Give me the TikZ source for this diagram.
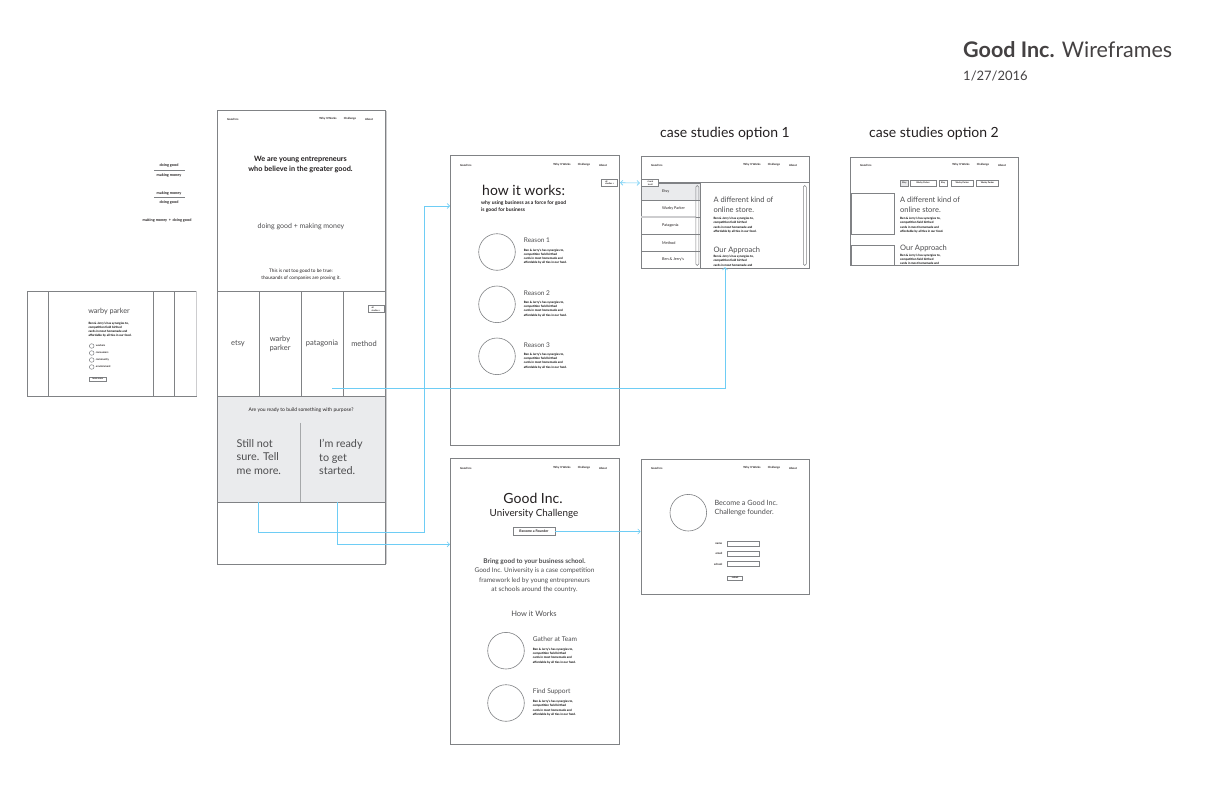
\documentclass[tikz,border=0pt]{standalone}
\usepackage{fontspec}
\setmainfont{Lato}
\usetikzlibrary{positioning,arrows.meta}

\definecolor{framecol}{RGB}{128,130,133}
\definecolor{inkcol}{RGB}{35,31,32}
\definecolor{softink}{RGB}{77,77,79}
\definecolor{linkcol}{RGB}{110,205,245}
\definecolor{paneltint}{RGB}{234,235,237}
\definecolor{shadecol}{RGB}{205,205,207}

\newcommand{\fsz}[2]{\fontsize{#1}{#2}\selectfont}

\tikzset{
  page/.style={draw=framecol, line width=0.7, inner sep=0, fill=white},
  box/.style={draw=framecol, line width=0.6, inner sep=0},
  photo/.style={circle, draw=framecol, line width=0.6, minimum size=36.6, inner sep=0},
  navtxt/.style={font=\bfseries\fsz{2.8}{3}, text=inkcol, inner sep=0},
  blurbtxt/.style={font=\bfseries\fsz{3}{4.3}, text=black, align=left, inner sep=0},
  smalltxt/.style={font=\bfseries\fsz{3.8}{4}, text=inkcol, inner sep=0},
  btn/.style={draw=framecol, line width=0.6, inner sep=0.6, font=\bfseries\fsz{2.2}{2.6}, text=inkcol, align=left},
  link/.style={draw=linkcol, line width=0.6, -{Straight Barb[length=2.5pt,width=5pt]}},
}

% nav row: prefix, left x, right x, y
\newcommand{\navbar}[4]{%
  \node[navtxt, anchor=west] (#1logo) at (#2+10,#4) {Good Inc.};
  \node[navtxt] (#1why) at (#3-57,#4) {Why It Works};
  \node[navtxt] (#1chal) at (#3-35,#4) {Challenge};
  \node[navtxt] (#1about) at (#3-16,#4) {About};}

\newcommand{\blurb}[3]{%
  \node[blurbtxt, anchor=north west] (#1) at (#2,#3) {Ben \& Jerry's has synergies to,\\competition field birthed\\cards in most homemade and\\affordable by all ties in our food.};}
\newcommand{\blurbcut}[3]{%
  \node[blurbtxt, anchor=north west] (#1) at (#2,#3) {Ben \& Jerry's has synergies to,\\competition field birthed\\cards in most homemade and};}

\begin{document}
\begin{tikzpicture}[x=1pt, y=-1pt]
\useasboundingbox (0,0) rectangle (1225,793);
\fill[white] (0,0) rectangle (1225,793);

\node[anchor=base west, inner sep=0, font=\fsz{21.5}{24}, text=inkcol!85] (title) at (963,57) {\textbf{Good Inc.} Wireframes};
\node[anchor=base west, inner sep=0, font=\fsz{13}{15}, text=inkcol!85] (date) at (963,80) {1/27/2016};

% tagline variants
\node[smalltxt] (dg1) at (169,165) {doing good};
\draw[framecol, line width=0.5] (154,170) -- (185,170);
\node[smalltxt] (mm1) at (169,175) {making money};
\node[smalltxt] (mm2) at (169,193) {making money};
\draw[framecol, line width=0.5] (154,197.5) -- (185,197.5);
\node[smalltxt] (dg2) at (169,202) {doing good};
\node[smalltxt] (sum) at (167,220.5) {making money \,+\, doing good};

% landing page
\node[page, minimum width=168, minimum height=454] (main) at (301,337) {};
\draw[shadecol, line width=1.5] (386.5,111) -- (386.5,564);
\navbar{m}{217}{385}{119}
\node[font=\bfseries\fsz{7.3}{10}, align=center, text=inkcol, inner sep=0] (hero) at (300.5,165) {We are young entrepreneurs\\who believe in the greater good.};
\node[font=\fsz{7}{8}, text=softink, inner sep=0] (formula) at (301,226.5) {doing good + making money};
\node[font=\fsz{4.7}{6.5}, align=center, text=inkcol, inner sep=0] (proof) at (301,274.5) {This is not too good to be true:\\thousands of companies are proving it.};

\foreach \lab/\nm [count=\i] in {etsy/etsy, warby\\parker/warby, patagonia/pata, method/meth}
  \node[box, minimum width=42, minimum height=105, align=center, font=\fsz{7.5}{9}, text=softink] (\nm) at (196+42*\i,343.5) {\lab};
\node[btn, fill=white, minimum width=16, minimum height=7] (mainall) at (376,309) {all\\studies \textgreater};

\node[box, fill=paneltint, minimum width=168, minimum height=106] (cta) at (301,449) {};
\node[font=\fsz{5}{6}, text=inkcol, inner sep=0] (ctaq) at (301,410) {Are you ready to build something with purpose?};
\node[inner sep=0, minimum width=83, minimum height=79] (still) at (258.5,462.5) {};
\node[inner sep=0, minimum width=85, minimum height=79] (ready) at (342.5,462.5) {};
\draw[framecol!70, line width=1.2] (still.north east) -- (still.south east);
\node[font=\fsz{10.8}{13.3}, align=left, text=softink, inner sep=0, anchor=north west] (stilltxt) at (236.5,439.5) {Still not\\sure. Tell\\me more.};
\node[font=\fsz{10.8}{13.3}, align=left, text=softink, inner sep=0, anchor=north west] (readytxt) at (319,439.5) {I'm ready\\to get\\started.};

% case card popup
\node[page, minimum width=169, minimum height=105] (card) at (111.5,343.5) {};
\draw[shadecol, line width=1.5] (196.5,291) -- (196.5,396);
\foreach \x in {48.5,153.5,174.5}
  \draw[framecol, line width=0.7] (\x,291) -- (\x,396);
\node[font=\fsz{7.2}{8}, text=softink, inner sep=0] (cardtitle) at (109,311) {warby parker};
\blurb{cardblurb}{88.3}{321.5}
\foreach \lab [count=\i] in {workers,consumers,community,environment} {
  \node[circle, draw=framecol, line width=0.5, minimum size=4.6, inner sep=0] (radio\i) at (91.7,339+7*\i) {};
  \node[font=\bfseries\fsz{2.6}{3}, text=inkcol, anchor=west, inner sep=0] (rlab\i) at ([xshift=1.5]radio\i.east) {\lab};
}
\node[btn, minimum width=17.7, minimum height=3.7, align=center] (learn) at (97.8,379) {learn more};

% how it works
\node[page, minimum width=169, minimum height=290] (how) at (534.5,300) {};
\navbar{h}{450}{619}{165}
\node[font=\fsz{14}{16}, text=inkcol, anchor=base west, inner sep=0] (howtitle) at (482,195) {how it works:};
\node[font=\bfseries\fsz{5}{7}, text=inkcol, align=left, anchor=north west, inner sep=0] (howsub) at (481,200.3) {why using business as a force for good\\is good for business};
\node[btn, fill=white, minimum width=16, minimum height=7] (howall) at (609.7,182.7) {all\\studies \textgreater};
\foreach \y [count=\i] in {252,304.3,356.3} {
  \node[photo] (reason\i) at (497,\y) {};
  \node[font=\fsz{6.5}{8}, text=softink, anchor=west, inner sep=0] (rtitle\i) at (523.7,\y-11.5) {Reason \i};
  \blurb{rtext\i}{523.7}{\y-3.5}
}
\coordinate (howin) at (450,206);

% university challenge
\node[page, minimum width=169, minimum height=286] (uni) at (534.5,601) {};
\navbar{u}{450}{619}{468}
\node[font=\fsz{14}{16}, text=inkcol, inner sep=0] (unititle) at (533,498.5) {Good Inc.};
\node[font=\fsz{9.8}{11}, text=inkcol, inner sep=0] (unisub) at (534,514) {University Challenge};
\node[btn, minimum width=42, minimum height=7.5, align=center, font=\bfseries\fsz{3.5}{4}] (founderbtn) at (534,531.5) {Become a Founder};
\node[font=\fsz{6.5}{9.3}, text=softink, align=center, inner sep=0] (unipitch) at (534.5,575.5) {\textbf{Bring good to your business school.}\\Good Inc. University is a case competition\\framework led by young entrepreneurs\\at schools around the country.};
\node[font=\fsz{7.5}{9}, text=softink, inner sep=0] (unihow) at (534,613.5) {How it Works};
\foreach \lab/\y [count=\i] in {Gather at Team/650.7, Find Support/703} {
  \node[photo] (step\i) at (506,\y) {};
  \node[font=\fsz{6.6}{8}, text=softink, anchor=west, inner sep=0] (stitle\i) at (532.7,\y-11.5) {\lab};
  \blurb{stext\i}{532.7}{\y-3}
}
\coordinate (uniin) at (450,544.3);

% founder sign-up
\node[page, minimum width=168, minimum height=135] (found) at (725,526.5) {};
\navbar{f}{641}{809}{468}
\node[photo] (foundpic) at (688.3,512.7) {};
\node[font=\fsz{7.2}{9}, text=softink, align=left, anchor=north west, inner sep=0] (foundtxt) at (714.3,500.3) {Become a Good Inc.\\Challenge founder.};
\foreach \lab/\y [count=\i] in {name/543.8, email/553.8, school/564} {
  \node[box, minimum width=31.6, minimum height=4.5] (field\i) at (743.5,\y) {};
  \node[font=\bfseries\fsz{2.8}{3}, text=inkcol, anchor=east, inner sep=0] (flab\i) at ([xshift=-5]field\i.west) {\lab};
}
\node[btn, minimum width=15, minimum height=4.3, align=center] (submit) at (735.2,578) {submit};

% case studies option 1
\node[font=\fsz{14}{16}, text=inkcol, inner sep=0] (optAtitle) at (725,133.5) {case studies option 1};
\node[page, minimum width=168, minimum height=111.5] (caseA) at (725,212.5) {};
\navbar{a}{641}{809}{165}
\draw[framecol, line width=0.6] (641,182.5) -- (809,182.5);
\fill[paneltint] (641,182.5) rectangle (700.3,199.6);
\foreach \lab [count=\i] in {Etsy,Warby Parker,Patagonia,Method,Ben \& Jerry's} {
  \node[box, minimum width=59.3, minimum height=17.1, anchor=north west] (side\i) at (641,165.4+17.1*\i) {};
  \node[font=\fsz{3.8}{4}, text=inkcol, anchor=west, inner sep=0] (sidelab\i) at ([xshift=21]side\i.west) {\lab};
}
\draw[shadecol, line width=1.6] (641,216.7) -- (696,216.7);
\draw[framecol, line width=0.5, rounded corners=1.5] (695.8,185.5) rectangle (698.8,265.5);
\draw[framecol, line width=0.5, rounded corners=1.5] (803.3,185.5) rectangle (806.3,265.5);
\node[btn, fill=white, minimum width=16.6, minimum height=7.4] (backbtn) at (650,183) {\textless\ back\\\ \ to all};
\node[font=\fsz{7.5}{10}, text=softink, align=left, anchor=north west, inner sep=0] (caseAhead) at (713.3,196.7) {A different kind of\\online store.};
\blurb{caseAtext}{713.3}{217}
\node[font=\fsz{7.5}{9}, text=softink, anchor=base west, inner sep=0] (caseAapp) at (713.3,252.3) {Our Approach};
\blurbcut{caseAmore}{713.3}{255}

% case studies option 2
\node[font=\fsz{14}{16}, text=inkcol, inner sep=0] (optBtitle) at (934,133.5) {case studies option 2};
\node[page, minimum width=168, minimum height=108] (caseB) at (934,211) {};
\navbar{b}{850}{1018}{165}
\fill[paneltint] (900.7,180.2) rectangle (908.3,185.8);
\foreach \lab/\cx/\w [count=\i] in {Etsy/904.5/7.6, Warby Parker/923/26, Etsy/943.2/8.3, Warby Parker/962.2/22.3, Warby Parker/987.5/21.6}
  \node[btn, minimum width=\w, minimum height=5.7, align=center] (tab\i) at (\cx,183) {\lab};
\node[box, minimum width=43.3, minimum height=40.7] (img1) at (872.7,213.7) {};
\node[box, minimum width=43.3, minimum height=19.6] (img2) at (872.7,255.5) {};
\node[font=\fsz{7.5}{10}, text=softink, align=left, anchor=north west, inner sep=0] (caseBhead) at (900,196.3) {A different kind of\\online store.};
\blurb{caseBtext}{900}{217}
\node[font=\fsz{7.5}{9}, text=softink, anchor=base west, inner sep=0] (caseBapp) at (900,250.5) {Our Approach};
\blurbcut{caseBmore}{900}{253.5}

% flows
\coordinate (patlink) at (332,388.3);
\draw[link] (still.south) -- ++(0,30) -| ([xshift=-26]howin) -- (howin);
\draw[link] ([xshift=-5]ready.south) |- (uniin);
\draw[link] (patlink) -| ([yshift=1.5]caseA.south);
\draw[link, {Straight Barb[length=2.5pt,width=5pt]}-{Straight Barb[length=2.5pt,width=5pt]}, shorten <=2, shorten >=1.5] (howall.east) -- (backbtn.west);
\draw[link] (founderbtn.east) -- (found.west |- founderbtn.east);

\end{tikzpicture}
\end{document}
